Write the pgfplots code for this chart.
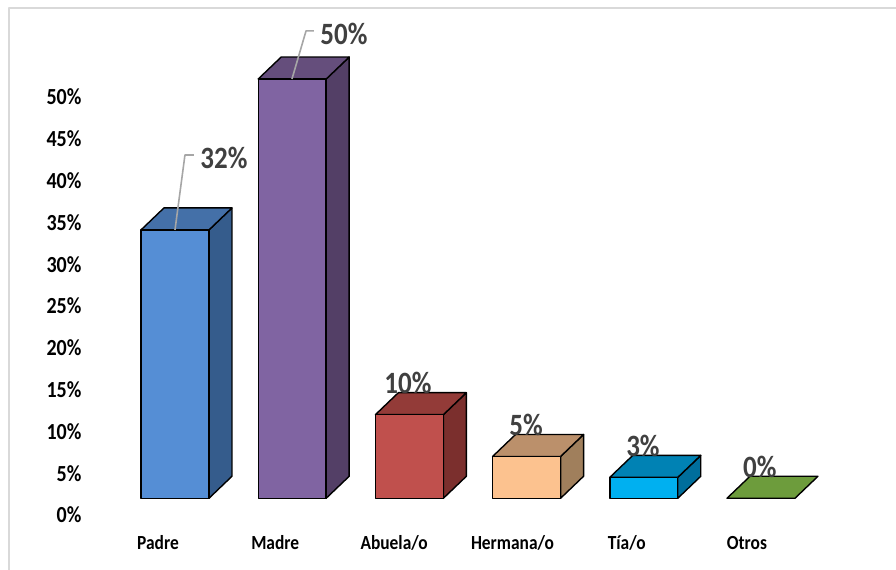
\documentclass[border=0pt]{standalone}
\usepackage{fontspec}
\setmainfont{Carlito}[FakeStretch=0.87]
\usepackage{pgfplots}
\pgfplotsset{compat=1.18}
\definecolor{pf}{HTML}{558ED5}\definecolor{pt}{HTML}{4470A8}\definecolor{ps}{HTML}{355C8C}
\definecolor{mf}{HTML}{8064A2}\definecolor{mt}{HTML}{654E7C}\definecolor{ms}{HTML}{533F66}
\definecolor{af}{HTML}{C0504D}\definecolor{at}{HTML}{933B38}\definecolor{as}{HTML}{7B2F2D}
\definecolor{hf}{HTML}{FCC28F}\definecolor{ht}{HTML}{BB906B}\definecolor{hs}{HTML}{A07F5C}
\definecolor{tf}{HTML}{00B0F0}\definecolor{tt}{HTML}{0082B4}\definecolor{ts}{HTML}{006E9C}
\definecolor{of}{HTML}{6D9C3C}
\begin{document}
\begin{tikzpicture}
\begin{axis}[
    at={(0,0)}, anchor=south west,
    scale only axis,
    width=896pt, height=570pt,
    xmin=-1.2031, xmax=6.4420,
    ymin=-6.579, ymax=61.603,
    axis line style={draw=none},
    major tick style={draw=none},
    xtick={0.145,1.145,2.16,3.17,4.145,5.17},
    xticklabels={Padre,Madre,Abuela/o,Hermana/o,Tía/o,Otros},
    ytick={0,5,...,50},
    yticklabels={0\%,5\%,10\%,15\%,20\%,25\%,30\%,35\%,40\%,45\%,50\%},
    xticklabel style={anchor=center, yshift=27pt, font=\bfseries\fontsize{20}{22}\selectfont, text=black},
    yticklabel style={anchor=east, xshift=85pt, font=\bfseries\fontsize{23}{25}\selectfont, text=black},
    every axis plot/.append style={line join=round},
    face/.style={draw=black, line width=1.4pt, fill=#1},
]
% frame of the chart area
\addplot[draw=black!15, line width=2.2pt] coordinates {(-1.126,-6.579) (-1.126,60.65) (6.442,60.65)};

% value labels, under the boxes
\addplot[
    draw=none, mark=none,
    text=black!75,
    point meta=explicit symbolic,
    nodes near coords,
    every node near coord/.append style={anchor=center, inner sep=0pt, text=black!75, font=\bfseries\fontsize{31}{33}\selectfont},
] coordinates {
    (0.708,42.7) [32\%]
    (1.732,57.5) [50\%]
    (2.278,15.8) [10\%]
    (3.285,10.8) [5\%]
    (4.283,8.25) [3\%]
    (5.28,5.74) [0\%]
};

% Padre
\addplot[face=ps] coordinates {(0.58,2) (0.776,4.63) (0.776,36.73) (0.58,34.1)} --cycle;
\addplot[face=pt] coordinates {(0,34.1) (0.196,36.73) (0.776,36.73) (0.58,34.1)} --cycle;
\addplot[face=pf] coordinates {(0,2) (0.58,2) (0.58,34.1) (0,34.1)} --cycle;
% Madre
\addplot[face=ms] coordinates {(1.58,2) (1.776,4.63) (1.776,54.78) (1.58,52.15)} --cycle;
\addplot[face=mt] coordinates {(1,52.15) (1.196,54.78) (1.776,54.78) (1.58,52.15)} --cycle;
\addplot[face=mf] coordinates {(1,2) (1.58,2) (1.58,52.15) (1,52.15)} --cycle;
% Abuela/o
\addplot[face=as] coordinates {(2.58,2) (2.776,4.63) (2.776,14.63) (2.58,12)} --cycle;
\addplot[face=at] coordinates {(2,12) (2.196,14.63) (2.776,14.63) (2.58,12)} --cycle;
\addplot[face=af] coordinates {(2,2) (2.58,2) (2.58,12) (2,12)} --cycle;
% Hermana/o
\addplot[face=hs] coordinates {(3.58,2) (3.776,4.63) (3.776,9.63) (3.58,7)} --cycle;
\addplot[face=ht] coordinates {(3,7) (3.196,9.63) (3.776,9.63) (3.58,7)} --cycle;
\addplot[face=hf] coordinates {(3,2) (3.58,2) (3.58,7) (3,7)} --cycle;
% Tia/o
\addplot[face=ts] coordinates {(4.58,2) (4.776,4.63) (4.776,7.13) (4.58,4.5)} --cycle;
\addplot[face=tt] coordinates {(4,4.5) (4.196,7.13) (4.776,7.13) (4.58,4.5)} --cycle;
\addplot[face=tf] coordinates {(4,2) (4.58,2) (4.58,4.5) (4,4.5)} --cycle;
% Otros
\addplot[face=of] coordinates {(5,2) (5.196,4.63) (5.776,4.63) (5.58,2)} --cycle;

% leader lines
\addplot[draw=black!35, line width=1.6pt] coordinates {(0.29,34.1) (0.375,43.06) (0.452,43.06)};
\addplot[draw=black!35, line width=1.6pt] coordinates {(1.288,52.15) (1.408,57.9) (1.476,57.9)};
\end{axis}
\end{tikzpicture}
\end{document}
